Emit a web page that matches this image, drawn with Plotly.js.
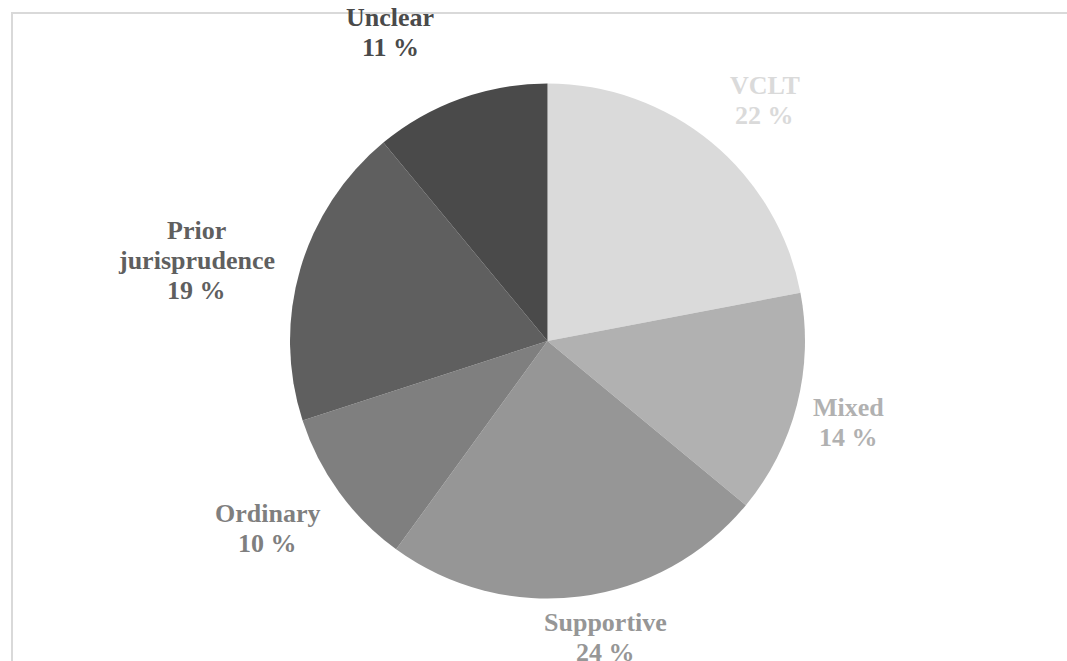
<!DOCTYPE html>
<html>
<head>
<meta charset="utf-8">
<script src="https://cdn.plot.ly/plotly-3.0.1.min.js"></script>
<style>
  html, body { margin: 0; padding: 0; background: #ffffff; overflow: hidden; }
  #frame { position: absolute; left: 11px; top: 12px; width: 1200px; height: 800px;
           border-left: 2px solid #d9d9d9; border-top: 2px solid #d9d9d9; }
  #chart { position: absolute; left: 0; top: 0; width: 1067px; height: 661px; }
</style>
</head>
<body>
<div id="frame"></div>
<div id="chart"></div>
<script>
// Data
const categories = ["VCLT", "Mixed", "Supportive", "Ordinary", "Prior<br>jurisprudence", "Unclear"];
const shares = [22, 14, 24, 10, 19, 11];
const sliceColors = ["#dadada", "#b1b1b1", "#969696", "#7f7f7f", "#5f5f5f", "#4a4a4a"];

// Label anchor positions (pixels, centre of label block)
const labelX = [765, 848, 605, 267, 196, 390];
const labelY = [100, 422, 637, 528, 260, 32];

const W = 1067, H = 661;
const cx = 547.5, cy = 341, r = 257.5;
const lineGap = 30;

const annotations = [];
categories.forEach((c, i) => {
  const lines = c.split("<br>").concat([shares[i] + " %"]);
  const n = lines.length;
  lines.forEach((t, k) => {
    const yPix = labelY[i] + (k - (n - 1) / 2) * lineGap;
    annotations.push({
      xref: "paper", yref: "paper",
      x: labelX[i] / W, y: 1 - yPix / H,
      xanchor: "center", yanchor: "middle",
      showarrow: false,
      text: t,
      font: { family: "Liberation Serif", weight: "bold", size: 26, color: sliceColors[i] }
    });
  });
});

const trace = {
  type: "pie",
  labels: categories,
  values: shares,
  sort: false,
  direction: "clockwise",
  rotation: 0,
  marker: { colors: sliceColors, line: { width: 0 } },
  textinfo: "none",
  hoverinfo: "label+value",
  showlegend: false,
  domain: { x: [(cx - r) / W, (cx + r) / W], y: [1 - (cy + r) / H, 1 - (cy - r) / H] }
};

const layout = {
  width: W, height: H,
  margin: { l: 0, r: 0, t: 0, b: 0 },
  paper_bgcolor: "rgba(0,0,0,0)",
  plot_bgcolor: "rgba(0,0,0,0)",
  showlegend: false,
  font: { family: "Liberation Serif" },
  annotations: annotations
};

Plotly.newPlot("chart", [trace], layout, { displayModeBar: false, staticPlot: true });
</script>
</body>
</html>
